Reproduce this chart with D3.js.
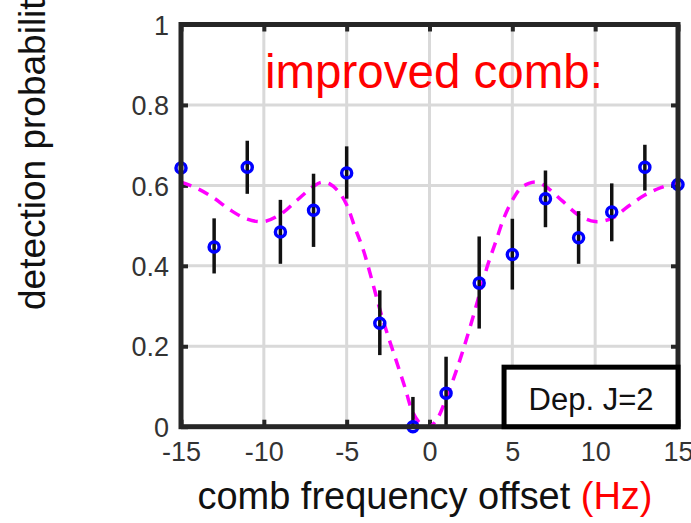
<!DOCTYPE html>
<html>
<head>
<meta charset="utf-8">
<script src="https://cdn.jsdelivr.net/npm/d3@7"></script>
<style>
  html, body { margin: 0; padding: 0; background: #fff; }
  svg { display: block; font-family: "Liberation Sans", Arial, sans-serif; }
</style>
</head>
<body>
<svg id="chart" width="691" height="523"></svg>
<script>
// Measured detection probability vs. comb frequency offset
const freq = [-15, -13, -11, -9, -7, -5, -3, -1, 1, 3, 5, 7, 9, 11, 13, 15];
const prob = [0.643, 0.447, 0.645, 0.484, 0.538, 0.631, 0.257, 0.0, 0.083, 0.357, 0.428, 0.567, 0.470, 0.534, 0.645, 0.602];
const errUp = [0.073, 0.071, 0.066, 0.080, 0.091, 0.066, 0.082, 0.074, 0.091, 0.116, 0.089, 0.070, 0.066, 0.071, 0.056, 0.072];
const errDown = [0.073, 0.066, 0.066, 0.079, 0.091, 0.064, 0.079, 0.0, 0.083, 0.113, 0.087, 0.071, 0.065, 0.073, 0.058, 0.068];

// Model curve (dashed)
const modelFreq = [-15, -14, -13, -12, -11, -10, -9, -8, -7, -6.5, -6, -5.5, -5, -4.5, -4, -3.5, -3, -2.5, -2, -1.5, -1, -0.5, 0,
                   0.5, 1, 1.5, 2, 2.5, 3, 3.5, 4, 4.5, 5, 5.5, 6, 6.5, 7, 8, 9, 10, 11, 12, 13, 14, 15];
const modelProb = [0.608, 0.592, 0.568, 0.538, 0.516, 0.510, 0.528, 0.563, 0.598, 0.608, 0.603, 0.585, 0.552, 0.495, 0.440, 0.368, 0.292, 0.225, 0.163, 0.100, 0.035, 0.006, 0.0,
                   0.022, 0.070, 0.125, 0.187, 0.255, 0.327, 0.400, 0.460, 0.520, 0.563, 0.593, 0.605, 0.608, 0.598, 0.562, 0.526, 0.510, 0.518, 0.548, 0.576, 0.595, 0.608];

const xTicks = [-15, -10, -5, 0, 5, 10, 15];
const xTickLabels = ["-15", "-10", "-5", "0", "5", "10", "15"];
const yTicks = [0, 0.2, 0.4, 0.6, 0.8, 1];
const yTickLabels = ["0", "0.2", "0.4", "0.6", "0.8", "1"];

const svg = d3.select("#chart");
const x = d3.scaleLinear().domain([-15, 15]).range([181, 678]);
const y = d3.scaleLinear().domain([0, 1]).range([426.7, 24.5]);

const axisColor = "#262626";

// Grid
const grid = svg.append("g");
grid.selectAll("line.gx").data(xTicks).join("line")
  .attr("x1", d => x(d)).attr("x2", d => x(d))
  .attr("y1", y(0)).attr("y2", y(1))
  .attr("stroke", "#d9d9d9").attr("stroke-width", 3);
grid.selectAll("line.gy").data(yTicks).join("line")
  .attr("y1", d => y(d)).attr("y2", d => y(d))
  .attr("x1", x(-15)).attr("x2", x(15))
  .attr("stroke", "#d9d9d9").attr("stroke-width", 3);

// Axes with inward ticks
const xAxisB = d3.axisBottom(x).tickValues(xTicks).tickSizeInner(-7).tickSizeOuter(0)
  .tickFormat((d, i) => xTickLabels[i]).tickPadding(15);
const xAxisT = d3.axisTop(x).tickValues(xTicks).tickSizeInner(-7).tickSizeOuter(0).tickFormat("");
const yAxisL = d3.axisLeft(y).tickValues(yTicks).tickSizeInner(-7).tickSizeOuter(0)
  .tickFormat((d, i) => yTickLabels[i]).tickPadding(12);
const yAxisR = d3.axisRight(y).tickValues(yTicks).tickSizeInner(-7).tickSizeOuter(0).tickFormat("");

function styleAxis(g) {
  g.select(".domain").remove();
  g.selectAll(".tick line").attr("stroke", axisColor).attr("stroke-width", 4);
  g.selectAll(".tick text").attr("fill", "#333").attr("font-size", 27)
    .attr("font-family", "'Liberation Sans', Arial, sans-serif");
}
svg.append("g").attr("transform", `translate(0,${y(0)})`).call(xAxisB).call(styleAxis)
  .selectAll(".tick text").attr("dy", "0.71em");
svg.append("g").attr("transform", `translate(0,${y(1)})`).call(xAxisT).call(styleAxis);
svg.append("g").attr("transform", `translate(${x(-15)},0)`).call(yAxisL).call(styleAxis)
  .selectAll(".tick text").attr("dy", "0.36em");
svg.append("g").attr("transform", `translate(${x(15)},0)`).call(yAxisR).call(styleAxis);

// Model curve
const line = d3.line().x(d => x(d[0])).y(d => y(d[1])).curve(d3.curveCatmullRom.alpha(0.5));
svg.append("path")
  .datum(modelFreq.map((f, i) => [f, modelProb[i]]))
  .attr("d", line)
  .attr("fill", "none")
  .attr("stroke", "#ff00ff")
  .attr("stroke-width", 3.5)
  .attr("stroke-dasharray", "11,8");

// Error bars
const pts = freq.map((f, i) => ({ f, p: prob[i], up: errUp[i], dn: errDown[i] }));
svg.append("g").selectAll("line").data(pts).join("line")
  .attr("x1", d => x(d.f)).attr("x2", d => x(d.f))
  .attr("y1", d => y(d.p + d.up)).attr("y2", d => y(d.p - d.dn))
  .attr("stroke", "#111").attr("stroke-width", 3.5);

// Markers
svg.append("g").selectAll("circle").data(pts).join("circle")
  .attr("cx", d => x(d.f)).attr("cy", d => y(d.p))
  .attr("r", 5)
  .attr("fill", "none")
  .attr("stroke", "#0000ff")
  .attr("stroke-width", 3.5);

// Axes box
svg.append("rect")
  .attr("x", x(-15)).attr("y", y(1))
  .attr("width", x(15) - x(-15)).attr("height", y(0) - y(1))
  .attr("fill", "none").attr("stroke", axisColor).attr("stroke-width", 5);

// Annotation
svg.append("text")
  .attr("x", 265).attr("y", 88)
  .attr("fill", "#ff0000")
  .attr("font-size", 47.5)
  .text("improved comb:");

// Label box
const bx0 = x(4.5), by0 = y(0.148);
svg.append("rect")
  .attr("x", bx0).attr("y", by0)
  .attr("width", x(15) - bx0).attr("height", y(0) - by0)
  .attr("fill", "#fff").attr("stroke", "#000").attr("stroke-width", 5);
svg.append("text")
  .attr("x", (bx0 + x(15)) / 2).attr("y", 410)
  .attr("text-anchor", "middle")
  .attr("fill", "#111")
  .attr("font-size", 31)
  .text("Dep. J=2");

// Axis labels
const xl = svg.append("text")
  .attr("x", 425).attr("y", 509)
  .attr("text-anchor", "middle")
  .attr("fill", "#111")
  .attr("font-size", 38)
  .attr("textLength", 455)
  .attr("lengthAdjust", "spacingAndGlyphs");
xl.append("tspan").text("comb frequency offset ");
xl.append("tspan").attr("fill", "#ff0000").text("(Hz)");

svg.append("text")
  .attr("transform", "translate(45,310) rotate(-90)")
  .attr("fill", "#111")
  .attr("font-size", 37)
  .text("detection probability");
</script>
</body>
</html>
